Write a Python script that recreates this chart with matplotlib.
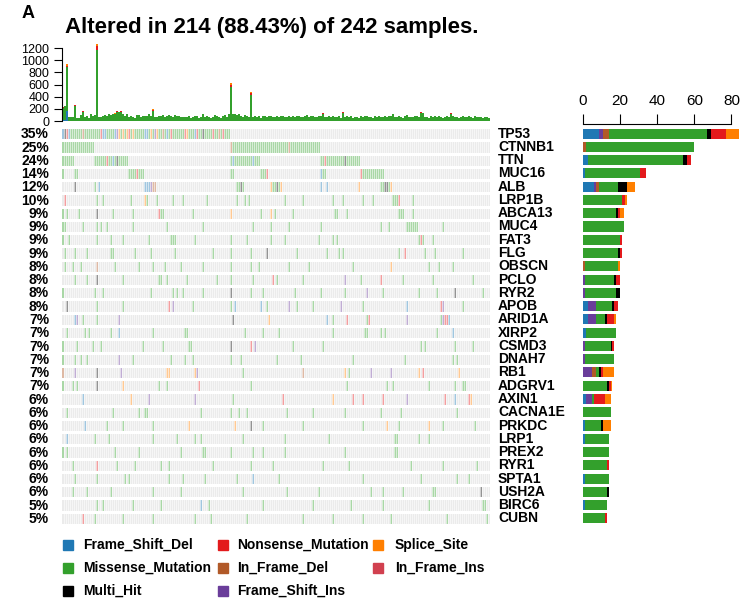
import numpy as np
import matplotlib.pyplot as plt
from matplotlib.patches import Rectangle
from matplotlib.colors import to_rgb

plt.rcParams['font.family'] = ['Liberation Sans', 'DejaVu Sans']

# ---- data ----
n_altered = 214
n_total = 242

genes = ['TP53', 'CTNNB1', 'TTN', 'MUC16', 'ALB', 'LRP1B', 'ABCA13', 'MUC4', 'FAT3', 'FLG',
         'OBSCN', 'PCLO', 'RYR2', 'APOB', 'ARID1A', 'XIRP2', 'CSMD3', 'DNAH7', 'RB1', 'ADGRV1',
         'AXIN1', 'CACNA1E', 'PRKDC', 'LRP1', 'PREX2', 'RYR1', 'SPTA1', 'USH2A', 'BIRC6', 'CUBN']
pct = [35, 25, 24, 14, 12, 10, 9, 9, 9, 9, 8, 8, 8, 8, 7, 7, 7, 7, 7, 7,
       6, 6, 6, 6, 6, 6, 6, 6, 5, 5]

# right bar: counts per variant class
rb_fsd = [9, 0, 3, 1, 6, 0, 0, 0, 0, 0, 0, 0, 0, 3, 3, 2, 0, 0, 0, 0, 2, 0, 1, 1, 0, 0, 1, 0, 1, 0]
rb_fsi = [2, 0, 0, 0, 1, 0, 0, 0, 0, 0, 0, 1, 1, 4, 4, 0, 1, 1, 5, 0, 3, 0, 0, 0, 0, 0, 0, 0, 0, 0]
rb_ifd = [3, 2, 0, 0, 2, 0, 0, 0, 0, 0, 1, 0, 0, 0, 0, 0, 0, 0, 2, 0, 0, 0, 0, 0, 0, 0, 0, 0, 0, 0]
rb_mis = [53, 58, 51, 30, 10, 21, 18, 22, 20, 19, 18, 16, 17, 9, 5, 16, 14, 16, 2, 13,
          1, 15, 9, 13, 14, 13, 13, 13, 12, 12]
rb_multi = [2, 0, 2, 0, 5, 0, 1, 0, 0, 1, 0, 1, 2, 1, 1, 0, 1, 0, 1, 1, 0, 0, 1, 0, 0, 0, 0, 1, 0, 0]
rb_non = [8, 0, 2, 3, 0, 2, 1, 0, 1, 1, 0, 2, 0, 2, 4, 0, 1, 0, 1, 1, 6, 0, 0, 0, 0, 1, 0, 0, 0, 1]
rb_spl = [7, 0, 0, 0, 4, 1, 2, 0, 0, 0, 1, 0, 0, 0, 1, 0, 0, 0, 6, 1, 3, 0, 4, 0, 0, 0, 0, 0, 0, 0]

# top bar: mutations per sample
tmb = [
    230, 250, 930, 70, 65, 60, 260, 55, 45, 100, 160, 60, 75, 50, 110, 80, 95, 1270, 70, 60,
    85, 95, 90, 110, 100, 120, 130, 160, 140, 165, 110, 90, 120, 70, 80, 60, 55, 100, 95, 60,
    75, 85, 90, 110, 80, 190, 60, 70, 90, 85, 100, 70, 75, 95, 80, 60, 100, 85, 90, 65,
    70, 60, 65, 80, 55, 60, 75, 90, 50, 60, 110, 70, 85, 60, 55, 70, 95, 80, 60, 50,
    90, 100, 70, 110, 620, 120, 110, 100, 115, 90, 70, 95, 80, 60, 470, 70, 80, 65, 90, 55,
    75, 80, 60, 85, 90, 70, 60, 80, 65, 75, 90, 70, 60, 85, 70, 80, 65, 90, 75, 60,
    70, 85, 95, 65, 80, 90, 70, 60, 75, 90, 130, 70, 60, 80, 65, 75, 70, 60, 90, 55,
    150, 70, 85, 60, 75, 50, 70, 65, 55, 80, 60, 75, 90, 65, 70, 55, 80, 60, 75, 70,
    65, 80, 60, 75, 90, 120, 70, 65, 80, 60, 55, 85, 100, 70, 65, 60, 80, 75, 60, 150,
    130, 65, 70, 55, 80, 60, 75, 65, 90, 60, 55, 70, 85, 60, 130, 75, 60, 70, 55, 65,
    80, 70, 60, 75, 65, 55, 90, 70, 60, 65, 55, 70, 60, 50,
]
tmb_fsd = {0: 20, 1: 20, 2: 170}
tmb_non = {0: 15, 1: 10, 2: 25, 6: 15, 10: 10, 17: 60, 27: 10, 29: 10, 45: 15,
           84: 35, 94: 25, 130: 12, 140: 15, 179: 12, 194: 12}
tmb_spl = {2: 20, 17: 40, 26: 8, 45: 8, 84: 25, 94: 15, 165: 10}

# oncoplot cells per gene: column or range, letter = variant class (default missense)
gene_muts = [
    "0-83 0D 1H 2N 3D 10d 19N 20D 21D 26D 27I 28S 30S 32S 33N 35S 41D 42D 44S 46I 47S "
    "50d 52D 54N 61N 62S 66D 67N 70H 75N 78d 80N",
    "0-15 84-128 84d 113d",
    "0-5 16-32 84-98 129-148 22N 25D 27H 85D 95D 131N 141H",
    "0 6 7 33-40 84 85 99-102 129-131 149-160 37N 102N 149N 129D",
    "6H 16 18D 41D 42D 43D 44I 45d 46d 87 88 89H 90 104S 105 106 107H 108 109S 129D 132D "
    "148S 159 160 161H 162H 163 164S",
    "1N 17 20 34 41S 42 47 55 60 72 87 91 93 111 120 135 140 150 155 165 166 167 168N 175",
    "0 2 8 17H 25 35 48N 49 50 65 84S 99 104S 106 115 136 137 142 168 169 170 175",
    "0 1 10 17 19 22 35 52 70 95 104 113 129 159 163 172-177 190",
    "0 3 17 24 30 43 54 55 56 66 84 92 104 111 128 135 137 178 179N 180 185",
    "1 6 12 24 25 36 44 56 75 84 94 102H 117 132 138 140 168 171N 181 186 200",
    "1 5 9 17d 26 38 45 51 59 70 84 94 98 113 123 145 164S 183 188 195",
    "6 12 17H 30 48 49 52 62 77 84 95 105N 107 120 141I 149 159N 170 185 205",
    "0 16 20 44 55 57 60 70 84H 94 100 116 129 141 152I 160 178 187 196H 210",
    "2H 17 30 53N 55I 65 84 86D 99D 102 113I 117 125 139I 150 172D 189N 190I 200",
    "6D 7I 10 17 28I 85H 103S 132D 135 142N 152 153N 172I 189 190I 191N 192N 193D",
    "2 11 13 24 28D 45 61 62 91 100 108 135 151 152 159 161 187 195D",
    "0 7 15 19 40 50 63 64 84H 94N 96I 115 130 179 181 196 205",
    "0 6 9 12 28I 35 54 61 65 84 89 107 119 145 171 195 197",
    "0d 6I 17H 29I 52S 53S 66S 67I 90 120d 141S 143 154I 164I 178S 180N 198S",
    "0 5 7 17H 30S 48 52 68N 94 142 162 165 183 196 200 201",
    "10D 34S 43I 66I 85 110N 135S 145N 150N 160N 172I 191N 196D 203N 204S",
    "2 25 38 41 42 69 84 88 92 112 125 141 159 169 197",
    "11D 22 30 45 63S 86S 94H 100 120 150 162S 168 183S 190 206",
    "2D 16 23 45 57 66 69 90 111 133 166 167 178 183",
    "0 2 26 38 59 70 71 84 95 100 111 141 166 167",
    "5 17N 27 36 49 53 75 94 105 130 143 174 190 207",
    "6 17 31 33 53 60 71 87 95D 108 150 179 197 203",
    "5 12 24 45 59 90 112 128 154 160 170 185 186 209H",
    "17 20 35 49 69D 73 100 125 144 160 183 210 211",
    "10N 16 30 45 66 74 92 120 135 150 164 192 212",
]

vc_colors = {
    'Frame_Shift_Del': '#1F78B4',
    'Missense_Mutation': '#33A02C',
    'Multi_Hit': '#000000',
    'Nonsense_Mutation': '#E31A1C',
    'In_Frame_Del': '#B15928',
    'Frame_Shift_Ins': '#6A3D9A',
    'Splice_Site': '#FF7F00',
    'In_Frame_Ins': '#D1404F',
}
codes = {'D': 'Frame_Shift_Del', 'M': 'Missense_Mutation', 'H': 'Multi_Hit',
         'N': 'Nonsense_Mutation', 'd': 'In_Frame_Del', 'I': 'Frame_Shift_Ins',
         'S': 'Splice_Site', 'i': 'In_Frame_Ins'}
legend_cols = [['Frame_Shift_Del', 'Missense_Mutation', 'Multi_Hit'],
               ['Nonsense_Mutation', 'In_Frame_Del', 'Frame_Shift_Ins'],
               ['Splice_Site', 'In_Frame_Ins']]


def parse(spec):
    cells = {}
    for tok in spec.split():
        code = tok[-1] if tok[-1].isalpha() else 'M'
        rng = tok[:-1] if tok[-1].isalpha() else tok
        a, _, b = rng.partition('-')
        for c in range(int(a), int(b or a) + 1):
            cells[c] = code
    return cells


def fade(col, a=0.42):
    return 1 - a * (1 - np.array(to_rgb(col)))


W, H = 740, 603
fig = plt.figure(figsize=(W / 100, H / 100), dpi=100)


def px_axes(x0, y0, x1, y1):
    return fig.add_axes([x0 / W, 1 - y1 / H, (x1 - x0) / W, (y1 - y0) / H])


n = len(tmb)
ng = len(genes)

# ---- top bar ----
ax_t = px_axes(62, 43, 490, 121)
x = np.arange(n)
fsd = np.array([tmb_fsd.get(i, 0) for i in x])
non = np.array([tmb_non.get(i, 0) for i in x])
spl = np.array([tmb_spl.get(i, 0) for i in x])
mis = np.array(tmb) - fsd - non - spl
bottom = np.zeros(n)
for vals, name in [(fsd, 'Frame_Shift_Del'), (mis, 'Missense_Mutation'),
                   (non, 'Nonsense_Mutation'), (spl, 'Splice_Site')]:
    ax_t.bar(x, vals, bottom=bottom, width=0.9, color=vc_colors[name], linewidth=0)
    bottom += vals
ax_t.set_xlim(-0.5, n - 0.5)
ax_t.set_ylim(0, 1283)
for s in ['top', 'right', 'bottom']:
    ax_t.spines[s].set_visible(False)
ax_t.spines['left'].set_bounds(0, 1200)
ax_t.set_yticks(range(0, 1201, 200))
ax_t.tick_params(axis='y', labelsize=9, length=6, pad=3)
ax_t.set_xticks([])
ax_t.patch.set_alpha(0)

# ---- matrix ----
ax_m = px_axes(62, 127, 490, 525)
bg = np.array(to_rgb('#EBEBEB'))
img = np.ones((ng, n, 3)) * bg
for gi, spec in enumerate(gene_muts):
    for c, code in parse(spec).items():
        img[gi, c] = fade(vc_colors[codes[code]])
ax_m.imshow(img, aspect='auto', interpolation='nearest',
            extent=(-0.5, n - 0.5, ng - 0.5, -0.5))
for r in range(ng + 1):
    ax_m.axhline(r - 0.5, color='white', lw=2.2)
ax_m.vlines(np.arange(n) + 0.5, -0.5, ng - 0.5, color='white', lw=0.4)
ax_m.set_xlim(-0.5, n - 0.5)
ax_m.set_ylim(ng - 0.5, -0.5)
ax_m.axis('off')
for i, (g, p) in enumerate(zip(genes, pct)):
    ax_m.text(n + 3.5, i, g, ha='left', va='center', fontsize=10, weight='bold', clip_on=False)
    ax_m.text(-7, i + 0.05, f'{p}%', ha='right', va='center', fontsize=10, weight='bold',
              clip_on=False)

# ---- right bar ----
ax_r = px_axes(582.7, 127, 740, 525)
rows = np.arange(ng)
left = np.zeros(ng)
for vals, name in [(rb_fsd, 'Frame_Shift_Del'), (rb_fsi, 'Frame_Shift_Ins'),
                   (rb_ifd, 'In_Frame_Del'), (rb_mis, 'Missense_Mutation'),
                   (rb_multi, 'Multi_Hit'), (rb_non, 'Nonsense_Mutation'),
                   (rb_spl, 'Splice_Site')]:
    vals = np.array(vals)
    ax_r.barh(rows, vals, left=left, height=0.76, color=vc_colors[name], linewidth=0)
    left += vals
ax_r.set_ylim(ng - 0.5, -0.5)
ax_r.set_xlim(0, 84.6)
for s in ['bottom', 'right', 'left']:
    ax_r.spines[s].set_visible(False)
ax_r.spines['top'].set_position(('outward', 2))
ax_r.spines['top'].set_bounds(0, 80)
ax_r.xaxis.tick_top()
ax_r.set_xticks(range(0, 81, 20))
ax_r.tick_params(axis='x', labelsize=11, length=7, pad=5)
ax_r.set_yticks([])
ax_r.patch.set_alpha(0)

# ---- titles ----
fig.text(22 / W, 1 - 14 / H, 'A', fontsize=13, weight='bold', va='center')
fig.text(65 / W, 1 - 27 / H,
         f'Altered in {n_altered} ({100 * n_altered / n_total:.2f}%) of {n_total} samples.',
         fontsize=16, weight='bold', va='center')

# ---- legend ----
sq_x = [63, 218, 373]
txt_x = [83, 237, 395]
row_y = [545, 568, 591]
for ci, col in enumerate(legend_cols):
    for ri, name in enumerate(col):
        fig.patches.append(Rectangle((sq_x[ci] / W, 1 - (row_y[ri] + 5) / H), 10 / W, 10 / H,
                                     transform=fig.transFigure, color=vc_colors[name]))
        fig.text(txt_x[ci] / W, 1 - row_y[ri] / H, name, fontsize=10,
                 weight='bold', va='center')

fig.savefig('out.png', dpi=100)
